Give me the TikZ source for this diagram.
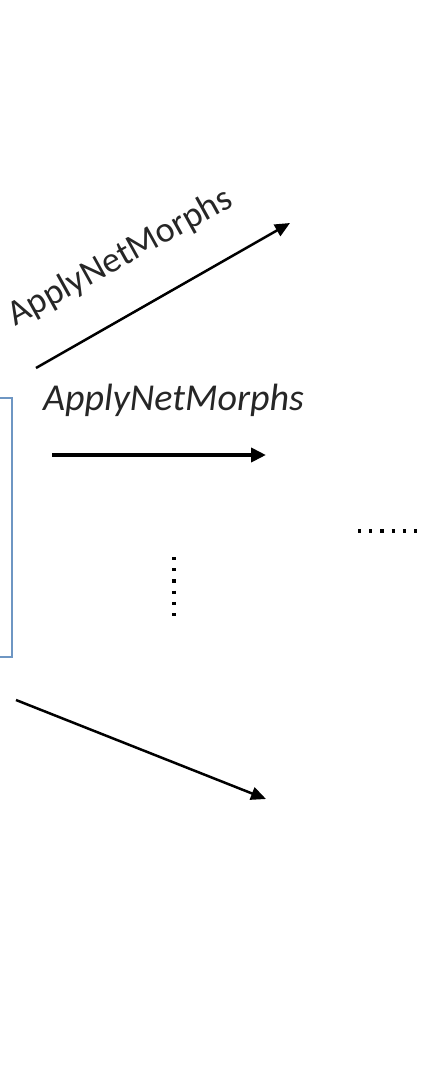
\documentclass[tikz,border=0pt]{standalone}
\usepackage{fontspec}
\setmainfont{Carlito}
\usetikzlibrary{arrows.meta}
\definecolor{boxblue}{RGB}{110,150,195}
\tikzset{
  morph/.style={text=black!85,font=\fontsize{36}{43}\selectfont,inner sep=0pt},
  thinarrow/.style={line width=2.5pt,-{Triangle[length=15pt,width=13pt]}},
  thickarrow/.style={line width=4.2pt,-{Triangle[length=15pt,width=14pt]}},
  dotrow/.style={line width=3.2pt,dash pattern=on 3.2pt off 8pt}
}
\begin{document}
\begin{tikzpicture}[x=1pt,y=-1pt]
\useasboundingbox (0,0) rectangle (433,1071);

% input net, only its right edge shows
\node[draw=boxblue,line width=2.4pt,minimum width=60pt,minimum height=259pt] (net) at (-18,527.5) {};

% upper branch
\coordinate (upstart) at (36,368);
\coordinate (upend) at (290,223);
\draw[thinarrow] (upstart) -- (upend);
\node[morph,anchor=base,rotate=29] (uplabel) at (125,266) {ApplyNetMorphs};

% middle branch
\coordinate (midstart) at (52,455);
\coordinate (midend) at (266,455);
\draw[thickarrow] (midstart) -- (midend);
\node[morph,anchor=base,font=\fontsize{38}{45}\selectfont\itshape] (midlabel) at (173.5,410) {ApplyNetMorphs};

% lower branch
\coordinate (lowstart) at (16,700);
\coordinate (lowend) at (266,799);
\draw[thinarrow] (lowstart) -- (lowend);

% more branches, more steps
\coordinate (vtop) at (174,557);
\coordinate (vbot) at (174,620);
\draw[dotrow] (vtop) -- (vbot);
\coordinate (hleft) at (358,531);
\coordinate (hright) at (422,531);
\draw[dotrow] (hleft) -- (hright);
\end{tikzpicture}
\end{document}
